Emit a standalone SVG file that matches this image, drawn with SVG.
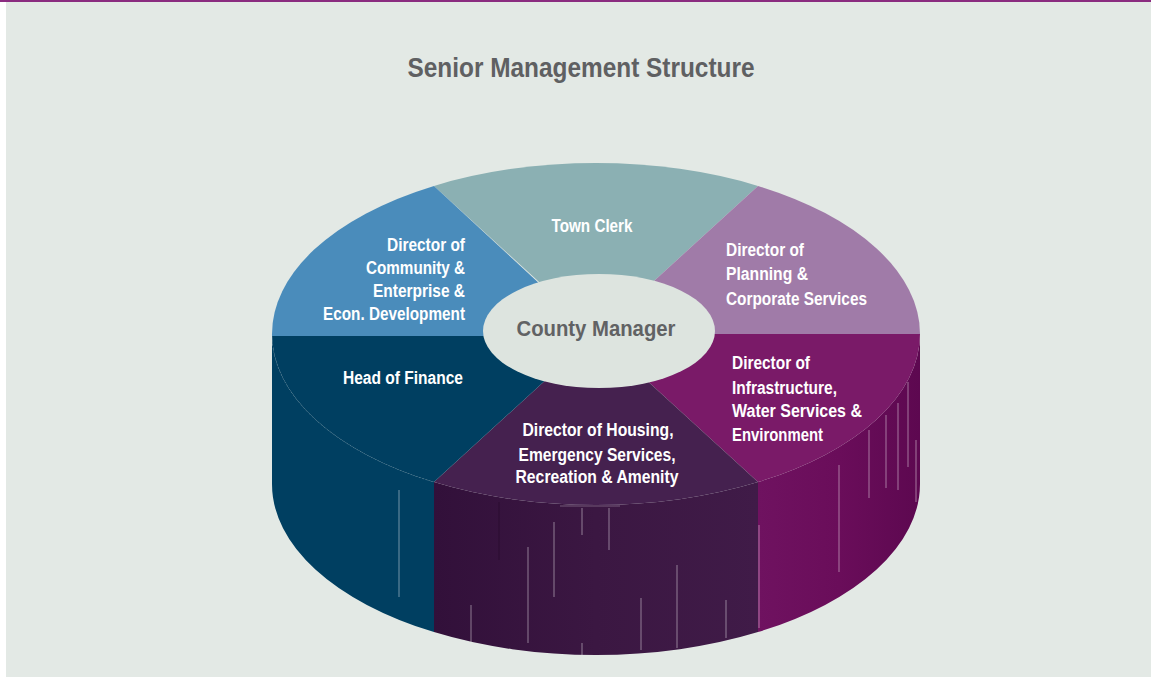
<svg xmlns="http://www.w3.org/2000/svg" width="1151" height="679" viewBox="0 0 1151 679">
<defs>
<style>
.t{font-family:"Liberation Sans Narrow","Liberation Sans",Arial,sans-serif;font-weight:bold;fill:#ffffff;font-size:18px}
.title{font-family:"Liberation Sans Narrow","Liberation Sans",Arial,sans-serif;font-weight:bold;fill:#5f6062;font-size:28px}
.cm{font-family:"Liberation Sans Narrow","Liberation Sans",Arial,sans-serif;font-weight:bold;fill:#616264;font-size:22px}
.streak{stroke:#ffffff;stroke-opacity:0.45;stroke-width:1;fill:none}
</style>
<linearGradient id="gHousing" x1="434" y1="0" x2="758" y2="0" gradientUnits="userSpaceOnUse">
<stop offset="0" stop-color="#32103a"/>
<stop offset="0.5" stop-color="#3b1742"/>
<stop offset="1" stop-color="#401b48"/>
</linearGradient>
<linearGradient id="gInfra" x1="758" y1="0" x2="920" y2="0" gradientUnits="userSpaceOnUse">
<stop offset="0" stop-color="#6f1260"/>
<stop offset="0.5" stop-color="#6a0d5a"/>
<stop offset="1" stop-color="#5d0850"/>
</linearGradient>
</defs>
<rect x="0" y="0" width="1151" height="679" fill="#ffffff"/>
<rect x="6" y="2" width="1145" height="675" fill="#e3e9e5"/>
<rect x="0" y="0" width="1151" height="2" fill="#8b2c80"/>
<text class="title" x="581" y="77" text-anchor="middle" textLength="347" lengthAdjust="spacingAndGlyphs">Senior Management Structure</text>

<g id="side-walls">
<path d="M272 334 A324 171 0 0 0 434 482.1 L434 632.1 A324 171 0 0 1 272 484 Z" fill="#003f61"/>
<path d="M434 482.1 A324 171 0 0 0 758 482.1 L758 632.1 A324 171 0 0 1 434 632.1 Z" fill="url(#gHousing)"/>
<path d="M758 482.1 A324 171 0 0 0 920 334 L920 484 A324 171 0 0 1 758 632.1 Z" fill="url(#gInfra)"/>
<path d="M272 336 A324 171 0 0 0 434 482.1" fill="none" stroke="#ffffff" stroke-opacity="0.25" stroke-width="0.8" stroke-dasharray="1.5 2.5"/>
<path d="M560 506 L620 506" stroke="#ffffff" stroke-opacity="0.3" stroke-width="1"/>
<g class="streak">
<line x1="399" y1="490" x2="399" y2="597"/>
<line x1="471" y1="605" x2="471" y2="642"/>
<line x1="528" y1="547" x2="528" y2="643"/>
<line x1="554" y1="522" x2="554" y2="597"/>
<line x1="582" y1="508" x2="582" y2="535"/>
<line x1="582" y1="643" x2="582" y2="655"/>
<line x1="609" y1="508" x2="609" y2="550"/>
<line x1="641" y1="598" x2="641" y2="650"/>
<line x1="677" y1="565" x2="677" y2="648"/>
<line x1="726" y1="600" x2="726" y2="638"/>
<line x1="759" y1="525" x2="759" y2="628"/>
<line x1="839" y1="465" x2="839" y2="572"/>
<line x1="869" y1="430" x2="869" y2="498"/>
<line x1="886" y1="415" x2="886" y2="488"/>
<line x1="898" y1="403" x2="898" y2="490"/>
<line x1="908" y1="382" x2="908" y2="467"/>
<line x1="916" y1="440" x2="916" y2="502"/>
</g>
<line x1="499" y1="502" x2="499" y2="560" stroke="#2a0c31" stroke-width="1"/>
</g>

<g id="town-clerk">
<path d="M596 334 L434 185.9 A324 171 0 0 1 758 185.9 Z" fill="#8bb0b3"/>
<text class="t" x="592" y="232" text-anchor="middle" textLength="81" lengthAdjust="spacingAndGlyphs">Town Clerk</text>
</g>
<g id="planning">
<path d="M596 334 L758 185.9 A324 171 0 0 1 920 334 Z" fill="#a07ba8"/>
<text class="t" x="726" y="256" textLength="78" lengthAdjust="spacingAndGlyphs">Director of</text>
<text class="t" x="726" y="280" textLength="82" lengthAdjust="spacingAndGlyphs">Planning &amp;</text>
<text class="t" x="726" y="305" textLength="141" lengthAdjust="spacingAndGlyphs">Corporate Services</text>
</g>
<g id="infrastructure">
<path d="M596 334 L920 334 A324 171 0 0 1 758 482.1 Z" fill="#7a1a68"/>
<text class="t" x="732" y="369" textLength="78" lengthAdjust="spacingAndGlyphs">Director of</text>
<text class="t" x="732" y="394" textLength="105" lengthAdjust="spacingAndGlyphs">Infrastructure,</text>
<text class="t" x="732" y="417" textLength="130" lengthAdjust="spacingAndGlyphs">Water Services &amp;</text>
<text class="t" x="732" y="441" textLength="91" lengthAdjust="spacingAndGlyphs">Environment</text>
</g>
<g id="housing">
<path d="M596 334 L758 482.1 A324 171 0 0 1 434 482.1 Z" fill="#45214f"/>
<text class="t" x="598" y="436" text-anchor="middle" textLength="151" lengthAdjust="spacingAndGlyphs">Director of Housing,</text>
<text class="t" x="597" y="461" text-anchor="middle" textLength="157" lengthAdjust="spacingAndGlyphs">Emergency Services,</text>
<text class="t" x="597" y="483" text-anchor="middle" textLength="163" lengthAdjust="spacingAndGlyphs">Recreation &amp; Amenity</text>
</g>
<g id="finance">
<path d="M596 334 L434 482.1 A324 171 0 0 1 272 334 Z" fill="#003f61"/>
<text class="t" x="403" y="384" text-anchor="middle" textLength="120" lengthAdjust="spacingAndGlyphs">Head of Finance</text>
</g>
<g id="community">
<path d="M596 336 L272 336 A324 171 0 0 1 434 185.9 Z" fill="#4a8cbb"/>
<text class="t" x="465" y="251" text-anchor="end" textLength="78" lengthAdjust="spacingAndGlyphs">Director of</text>
<text class="t" x="465" y="274" text-anchor="end" textLength="99" lengthAdjust="spacingAndGlyphs">Community &amp;</text>
<text class="t" x="465" y="297" text-anchor="end" textLength="92" lengthAdjust="spacingAndGlyphs">Enterprise &amp;</text>
<text class="t" x="465" y="320" text-anchor="end" textLength="142" lengthAdjust="spacingAndGlyphs">Econ. Development</text>
</g>
<g id="county-manager">
<ellipse cx="599" cy="331" rx="116" ry="57" fill="#dde4df"/>
<text class="cm" x="596" y="336" text-anchor="middle" textLength="159" lengthAdjust="spacingAndGlyphs">County Manager</text>
</g>
<g id="connectors"/>
</svg>
